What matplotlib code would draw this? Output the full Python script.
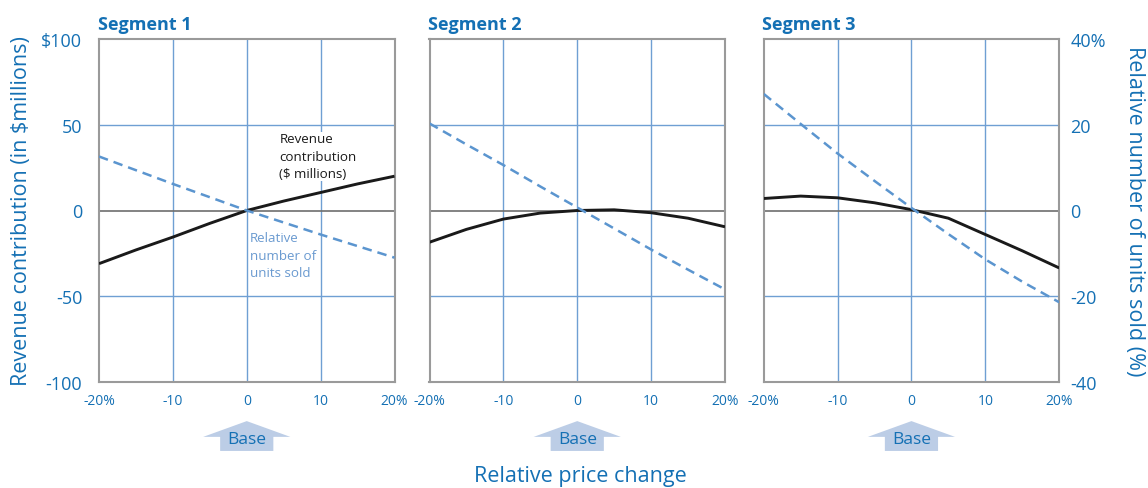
import matplotlib
matplotlib.use("Agg")
import matplotlib.pyplot as plt
import matplotlib.transforms as mtransforms
from matplotlib.patches import Polygon

# Price change (%) relative to the base price
price_change = [-20, -15, -10, -5, 0, 5, 10, 15, 20]

# Revenue contribution, $ millions
revenue_seg1 = [-31, -23, -15.5, -7.5, 0, 5.5, 10.5, 15.5, 20]
revenue_seg2 = [-18.5, -11, -5, -1.5, 0, 0.4, -1.3, -4.5, -9.5]
revenue_seg3 = [7, 8.4, 7.4, 4.5, 0.5, -4.5, -14, -23.5, -33.5]

# Relative number of units sold, %
units_seg1 = [12.6, 9.4, 6.2, 3.1, 0, -2.8, -5.6, -8.3, -11]
units_seg2 = [20.3, 15.4, 10.6, 5.6, 0.7, -4.2, -9.1, -13.8, -18.4]
units_seg3 = [27.2, 20.2, 13.3, 6.9, 0.6, -5.5, -11.4, -16.6, -21.4]

segment_titles = ["Segment 1", "Segment 2", "Segment 3"]
revenue = [revenue_seg1, revenue_seg2, revenue_seg3]
units = [units_seg1, units_seg2, units_seg3]

x_ticks = [-20, -10, 0, 10, 20]
x_tick_labels = ["-20%", "-10", "0", "10", "20%"]
rev_ticks = [-100, -50, 0, 50, 100]
rev_tick_labels = ["-100", "-50", "0", "50", "$100"]
unit_ticks = [-40, -20, 0, 20, 40]
unit_tick_labels = ["-40", "-20", "0", "20", "40%"]

BLUE_TEXT = "#1470b4"
GRID = "#6f9fd3"
DASH = "#5b95cf"
FRAME = "#9a9a9a"
ZERO = "#6e6e6e"
ARROW_FILL = "#bccde6"
NOTE_BLUE = "#6a9ad0"

plt.rcParams["font.family"] = ["Open Sans", "DejaVu Sans"]

fig = plt.figure(figsize=(11.48, 4.89), dpi=100)

lefts = [99 / 1148, 429.5 / 1148, 763.7 / 1148]
width = 295.5 / 1148
bottom = 1 - 383 / 489
height = 343 / 489

for i in range(3):
    ax = fig.add_axes([lefts[i], bottom, width, height])
    ax.set_xlim(-20, 20)
    ax.set_ylim(-100, 100)
    ax.set_xticks(x_ticks)
    ax.set_yticks(rev_ticks)
    for v in x_ticks[1:-1]:
        ax.axvline(v, color=GRID, lw=1.0, zorder=1)
    for v in (-50, 50):
        ax.axhline(v, color=GRID, lw=1.0, zorder=1)
    ax.axhline(0, color=ZERO, lw=1.2, zorder=1)
    for sp in ax.spines.values():
        sp.set_color(FRAME)
        sp.set_linewidth(1.5)
    ax.tick_params(length=0)
    ax.set_xticklabels(x_tick_labels, color=BLUE_TEXT, fontsize=10)
    ax.tick_params(axis="x", pad=8)
    if i == 0:
        ax.set_yticklabels(rev_tick_labels, color=BLUE_TEXT, fontsize=13)
        ax.tick_params(axis="y", pad=12)
        ax.set_ylabel("Revenue contribution (in $millions)", color=BLUE_TEXT,
                      fontsize=15.5, labelpad=7)
    else:
        ax.set_yticklabels([])

    ax.plot(price_change, revenue[i], color="#1a1a1a", lw=2.1, zorder=4,
            solid_capstyle="butt", solid_joinstyle="round")

    ax2 = ax.twinx()
    ax2.set_ylim(-40, 40)
    ax2.set_yticks(unit_ticks)
    ax2.tick_params(length=0)
    for sp in ax2.spines.values():
        sp.set_visible(False)
    ax2.plot(price_change, units[i], color=DASH, lw=1.8, ls=(0, (3.8, 2.4)),
             zorder=3)
    if i == 2:
        ax2.set_yticklabels(unit_tick_labels, color=BLUE_TEXT, fontsize=13)
        ax2.tick_params(axis="y", pad=8)
        ax2.set_ylabel("Relative number of units sold (%)", color=BLUE_TEXT,
                       fontsize=15.5, rotation=-90, labelpad=28)
    else:
        ax2.set_yticklabels([])

    ax.set_title(segment_titles[i], loc="left", color=BLUE_TEXT,
                 fontsize=13, fontweight="bold", pad=7, x=-0.005)

    # "Base" arrow under the zero price change
    trans = mtransforms.blended_transform_factory(ax.transData, ax.transAxes)
    arrow = Polygon([(-5.9, -0.160), (0, -0.114), (5.9, -0.160),
                     (3.6, -0.160), (3.6, -0.201), (-3.6, -0.201),
                     (-3.6, -0.160)],
                    closed=True, transform=trans, facecolor=ARROW_FILL,
                    edgecolor="none", clip_on=False)
    ax.add_patch(arrow)
    ax.text(0, -0.166, "Base", transform=trans, ha="center", va="center",
            color=BLUE_TEXT, fontsize=12.5)

    if i == 0:
        ax.text(4.4, 45.5, "Revenue\ncontribution\n($ millions)", color="#1a1a1a",
                fontsize=9.6, ha="left", va="top", linespacing=1.45, zorder=2,
                bbox=dict(facecolor="white", edgecolor="none", pad=0.3))
        ax.text(0.45, -12, "Relative\nnumber of\nunits sold", color=NOTE_BLUE,
                fontsize=9.6, ha="left", va="top", linespacing=1.45, zorder=5)

fig.text(580 / 1148, 1 - 477 / 489, "Relative price change", color=BLUE_TEXT,
         fontsize=15.5, ha="center", va="center")

fig.savefig("out.png", dpi=100)
